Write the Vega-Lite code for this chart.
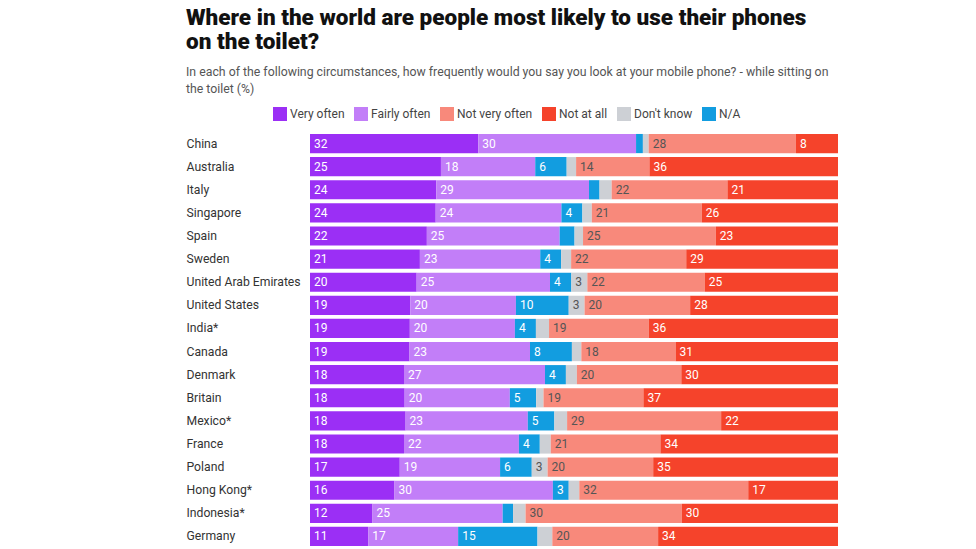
{
  "$schema": "https://vega.github.io/schema/vega-lite/v6.json",
  "width": 528,
  "height": 416,
  "autosize": "none",
  "padding": {"left": 310, "top": 132, "right": 138, "bottom": 1},
  "background": "white",
  "config": {"view": {"stroke": null}, "font": "Roboto"},
  "title": {
    "text": ["Where in the world are people most likely to use their phones", "on the toilet?"],
    "subtitle": ["In each of the following circumstances, how frequently would you say you look at your mobile phone? - while sitting on", "the toilet (%)"],
    "anchor": "start",
    "frame": "bounds",
    "font": "Roboto",
    "fontSize": 22.5,
    "fontWeight": 900,
    "color": "#111111",
    "lineHeight": 24,
    "subtitleFont": "Roboto",
    "subtitleFontSize": 12.3,
    "subtitleColor": "#555555",
    "subtitleLineHeight": 17,
    "subtitlePadding": 12,
    "offset": 12
  },
  "data": {
    "values": [
      {"country": "China", "Very often": 32, "Fairly often": 30, "NA": 1.3, "Dont know": 1.1, "Not very often": 28, "Not at all": 8},
      {"country": "Australia", "Very often": 25, "Fairly often": 18, "NA": 6, "Dont know": 1.8, "Not very often": 14, "Not at all": 36},
      {"country": "Italy", "Very often": 24, "Fairly often": 29, "NA": 2, "Dont know": 2.3, "Not very often": 22, "Not at all": 21},
      {"country": "Singapore", "Very often": 24, "Fairly often": 24, "NA": 4, "Dont know": 1.8, "Not very often": 21, "Not at all": 26},
      {"country": "Spain", "Very often": 22, "Fairly often": 25, "NA": 2.8, "Dont know": 1.6, "Not very often": 25, "Not at all": 23},
      {"country": "Sweden", "Very often": 21, "Fairly often": 23, "NA": 4, "Dont know": 1.9, "Not very often": 22, "Not at all": 29},
      {"country": "United Arab Emirates", "Very often": 20, "Fairly often": 25, "NA": 4, "Dont know": 3, "Not very often": 22, "Not at all": 25},
      {"country": "United States", "Very often": 19, "Fairly often": 20, "NA": 10, "Dont know": 3, "Not very often": 20, "Not at all": 28},
      {"country": "India*", "Very often": 19, "Fairly often": 20, "NA": 4, "Dont know": 2.5, "Not very often": 19, "Not at all": 36},
      {"country": "Canada", "Very often": 19, "Fairly often": 23, "NA": 8, "Dont know": 1.8, "Not very often": 18, "Not at all": 31},
      {"country": "Denmark", "Very often": 18, "Fairly often": 27, "NA": 4, "Dont know": 2.1, "Not very often": 20, "Not at all": 30},
      {"country": "Britain", "Very often": 18, "Fairly often": 20, "NA": 5, "Dont know": 1.4, "Not very often": 19, "Not at all": 37},
      {"country": "Mexico*", "Very often": 18, "Fairly often": 23, "NA": 5, "Dont know": 2.4, "Not very often": 29, "Not at all": 22},
      {"country": "France", "Very often": 18, "Fairly often": 22, "NA": 4, "Dont know": 2.1, "Not very often": 21, "Not at all": 34},
      {"country": "Poland", "Very often": 17, "Fairly often": 19, "NA": 6, "Dont know": 3, "Not very often": 20, "Not at all": 35},
      {"country": "Hong Kong*", "Very often": 16, "Fairly often": 30, "NA": 3, "Dont know": 2, "Not very often": 32, "Not at all": 17},
      {"country": "Indonesia*", "Very often": 12, "Fairly often": 25, "NA": 2, "Dont know": 2.4, "Not very often": 30, "Not at all": 30},
      {"country": "Germany", "Very often": 11, "Fairly often": 17, "NA": 15, "Dont know": 2.8, "Not very often": 20, "Not at all": 34}
    ]
  },
  "transform": [
    {"fold": ["Very often", "Fairly often", "NA", "Dont know", "Not very often", "Not at all"], "as": ["key", "value"]},
    {"stack": "value", "groupby": ["country"], "offset": "normalize", "as": ["v0", "v1"]}
  ],
  "encoding": {
    "y": {
      "field": "country",
      "type": "nominal",
      "sort": null,
      "scale": {"paddingInner": 0.17, "paddingOuter": 0.085},
      "axis": {
        "title": null,
        "domain": false,
        "ticks": false,
        "tickSize": 0,
        "labelAlign": "left",
        "labelPadding": 124,
        "labelFont": "Roboto",
        "labelFontSize": 12.2,
        "labelColor": "#333333"
      }
    }
  },
  "layer": [
    {
      "mark": {"type": "bar", "cornerRadius": 0},
      "encoding": {
        "x": {"field": "v0", "type": "quantitative", "scale": {"domain": [0, 1]}, "axis": null},
        "x2": {"field": "v1"},
        "color": {
          "field": "key",
          "type": "nominal",
          "scale": {
            "domain": ["Very often", "Fairly often", "Not very often", "Not at all", "Dont know", "NA"],
            "range": ["#9B2FF5", "#C27EF8", "#F8897B", "#F5432B", "#CDD0D5", "#129DE0"]
          },
          "legend": {
            "orient": "none",
            "legendX": -37,
            "legendY": -25,
            "direction": "horizontal",
            "title": null,
            "symbolType": "square",
            "symbolSize": 196,
            "symbolStrokeWidth": 0,
            "symbolOpacity": 1,
            "labelFont": "Roboto",
            "labelFontSize": 12,
            "labelColor": "#444444",
            "labelOffset": 3,
            "columnPadding": 9,
            "labelExpr": "datum.label === 'Dont know' ? \"Don't know\" : (datum.label === 'NA' ? 'N/A' : datum.label)"
          }
        }
      }
    },
    {
      "transform": [{"filter": "datum.value >= 3"}],
      "mark": {"type": "text", "align": "left", "baseline": "middle", "dx": 4, "font": "Roboto", "fontSize": 12},
      "encoding": {
        "x": {"field": "v0", "type": "quantitative"},
        "text": {"field": "value", "type": "quantitative"},
        "color": {
          "condition": {"test": "datum.key === 'Not very often' || datum.key === 'Dont know'", "value": "#555555"},
          "value": "#ffffff"
        }
      }
    }
  ]
}
